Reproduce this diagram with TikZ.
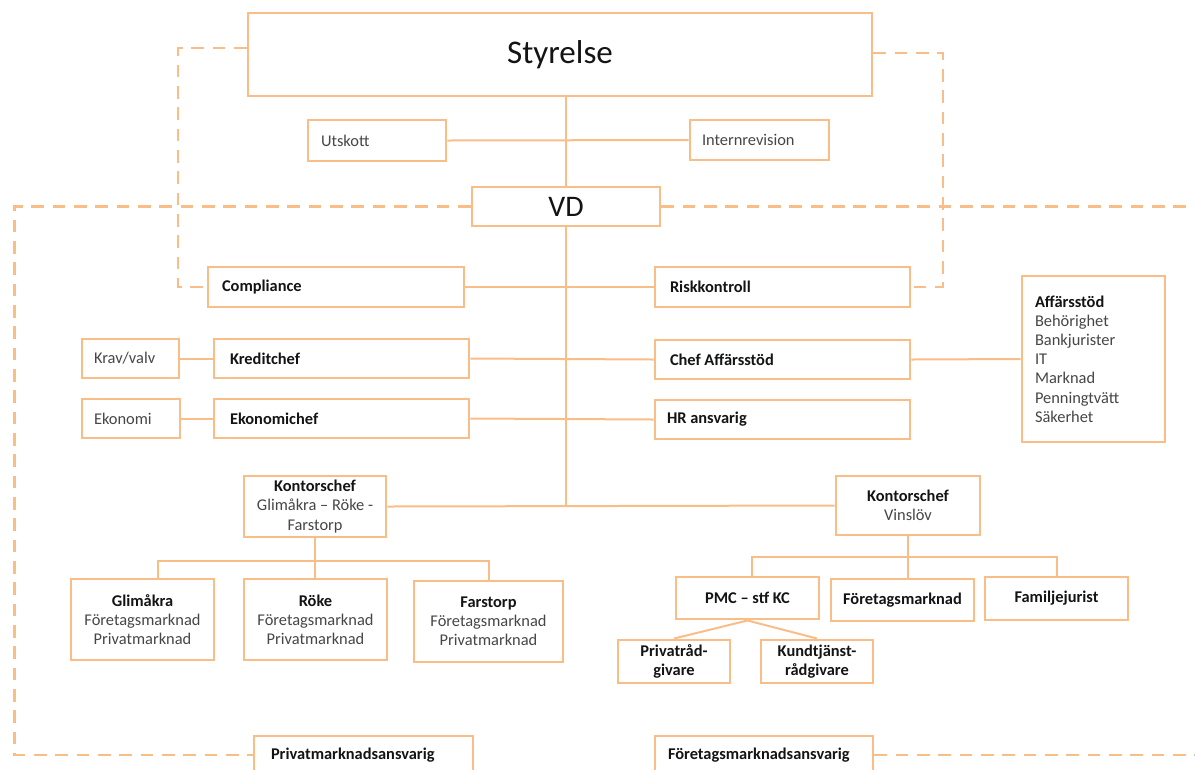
\documentclass[tikz,border=0pt]{standalone}
\usepackage{fontspec}
\setmainfont{Carlito}
\usetikzlibrary{calc}
\definecolor{lineor}{RGB}{249,190,136}
\definecolor{txtgrey}{RGB}{70,70,70}
\definecolor{txtblack}{RGB}{20,20,20}
\hyphenpenalty=10000\relax
\exhyphenpenalty=10000\relax
\newcommand\bhd[1]{{\color{txtblack}\bfseries #1}}
\tikzset{
  box/.style={draw=lineor, line width=2.2pt, fill=white, inner ysep=1pt, text=txtgrey,
    font=\fontsize{12.3}{14.4}\selectfont},
  conn/.style={draw=lineor, line width=1.5pt},
  dconn/.style={draw=lineor, line width=1.6pt, dash pattern=on 9.5pt off 6.5pt}
}
\newcommand\obox[8]{%
  \pgfmathsetlengthmacro\obw{(#4-#2)*0.75pt}%
  \pgfmathsetlengthmacro\obh{(#5-#3)*0.75pt}%
  \pgfmathsetlengthmacro\obt{(#4-#2-2*#6)*0.75pt}%
  \pgfmathsetlengthmacro\obi{#6*0.75pt}%
  \node[box, minimum width=\obw, minimum height=\obh, text width=\obt, inner xsep=\obi, align=#7] (#1) at ({(#2+#4)/2},{(#3+#5)/2}) {#8};%
}
\begin{document}
\begin{tikzpicture}[x=0.75pt,y=-0.75pt]
\useasboundingbox (0,0) rectangle (1195,769);
\clip (0,0) rectangle (1195,769);

% boxes
\obox{sty}{248}{13}{872}{96}{10}{flush center}{\color{txtblack}\fontsize{24.8}{28}\selectfont Styrelse}
\obox{vd}{472}{187}{660}{226}{10}{flush center}{\color{txtblack}\fontsize{22.4}{26}\selectfont VD}
\obox{uts}{308}{120}{446}{161}{13}{flush left}{Utskott}
\obox{int}{690}{120}{829}{160}{12}{flush left}{Internrevision}
\obox{comp}{208}{267}{464}{307}{14}{flush left}{\bhd{Compliance}}
\obox{risk}{655}{267}{910}{307}{15}{flush left}{\bhd{Riskkontroll}}
\obox{krav}{82}{339}{179}{378}{12}{flush left}{Krav/valv}
\obox{kred}{214}{339}{469}{378}{16}{flush left}{\bhd{Kreditchef}}
\obox{eko}{82}{399}{180}{438}{12}{flush left}{Ekonomi}
\obox{ekoc}{214}{399}{469}{438}{16}{flush left}{\bhd{Ekonomichef}}
\obox{chaff}{655}{340}{910}{379}{15}{flush left}{\bhd{Chef Affärsstöd}}
\obox{hr}{655}{400}{910}{439}{12}{flush left}{\bhd{HR ansvarig}}
\obox{aff}{1022}{276}{1165}{442}{13}{flush left}{\bhd{Affärsstöd}\\Behörighet\\Bankjurister\\IT\\Marknad\\Penningtvätt\\Säkerhet}
\obox{k1}{244}{476}{386}{537}{6}{flush center}{\bhd{Kontorschef}\\Glimåkra – Röke -\\Farstorp}
\obox{k2}{836}{476}{980}{535}{6}{flush center}{\bhd{Kontorschef}\\Vinslöv}
\obox{glim}{71}{579}{214}{660}{6}{flush center}{\bhd{Glimåkra}\\Företagsmarknad\\Privatmarknad}
\obox{roke}{244}{579}{387}{660}{6}{flush center}{\bhd{Röke}\\Företagsmarknad\\Privatmarknad}
\obox{fars}{414}{581}{563}{662}{6}{flush center}{\bhd{Farstorp}\\Företagsmarknad\\Privatmarknad}
\obox{pmc}{676}{577}{819}{619}{6}{flush center}{\bhd{PMC – stf KC}}
\obox{ftg}{831}{579}{974}{621}{6}{flush center}{\bhd{Företagsmarknad}}
\obox{fam}{985}{577}{1128}{620}{6}{flush center}{\bhd{Familjejurist}}
\obox{prv}{618}{640}{730}{683}{4}{flush center}{\bhd{Privatråd-}\\\bhd{givare}}
\obox{kund}{761}{640}{873}{683}{4}{flush center}{\bhd{Kundtjänst-}\\\bhd{rådgivare}}
\obox{pma}{254}{736}{473}{774}{17}{flush left}{\bhd{Privatmarknadsansvarig}}
\obox{fma}{655}{736}{873}{774}{13}{flush left}{\bhd{Företagsmarknadsansvarig}}

% solid connectors
\draw[conn] (sty.south -| vd.north) -- (vd.north);
\draw[conn] (uts.east) -- (int.west);
\draw[conn] (vd.south) -- (vd.south |- k1.east);
\draw[conn] (k1.east) -- (k2.west);
\draw[conn] (comp.east) -- (risk.west);
\draw[conn] (kred.east) -- (chaff.west);
\draw[conn] (ekoc.east) -- (hr.west);
\draw[conn] (krav.east) -- (kred.west);
\draw[conn] (eko.east) -- (ekoc.west);
\draw[conn] (chaff.east) -- (aff.west);

\coordinate (gd) at (158,561);
\draw[conn] (k1.south) -- (k1.south |- roke.north);
\draw[conn] (gd |- glim.north) -- (gd) -- (fars.north |- gd) -- (fars.north);

\coordinate (b2) at (752,557);
\draw[conn] (k2.south) -- (k2.south |- ftg.north);
\draw[conn] (b2 |- pmc.north) -- (b2) -- (fam.north |- b2) -- (fam.north);
\draw[conn] (pmc.south) -- (prv.north);
\draw[conn] (pmc.south) -- (kund.north);

% dashed connectors
\draw[dconn] ([yshift=5pt]sty.west) -| (178,287) -- (comp.west);
\draw[dconn] ([yshift=1pt]sty.east) -| (943,287) -- (risk.east);
\draw[dconn] (vd.west) -| (14.5,755) -- (pma.west);
\draw[dconn] (vd.east) -- ++(600,0);
\draw[dconn] (fma.east) -- ++(400,0);
\end{tikzpicture}
\end{document}
